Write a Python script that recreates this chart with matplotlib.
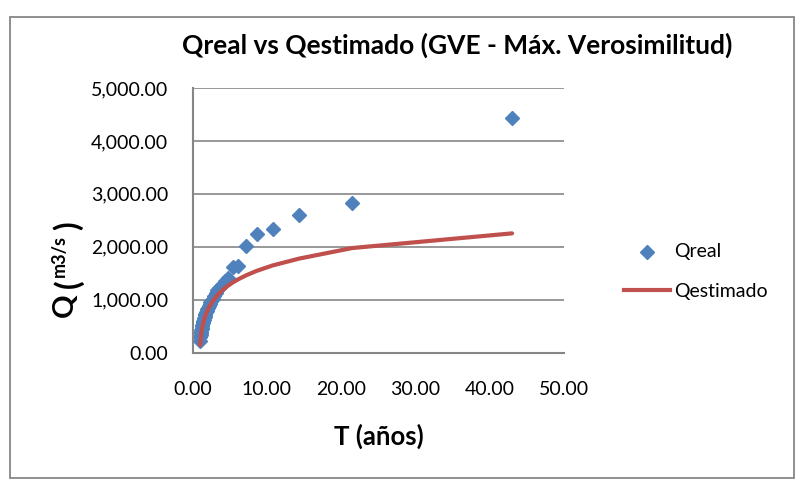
import matplotlib
matplotlib.use("Agg")
import matplotlib.pyplot as plt
from matplotlib.patches import Rectangle
from matplotlib.lines import Line2D
from matplotlib.ticker import FuncFormatter

# ---- data ----
T_years = [43.0, 21.5, 14.333, 10.75, 8.6, 7.167, 6.143, 5.375, 4.778, 4.3,
           3.909, 3.583, 3.308, 3.071, 2.867, 2.6875, 2.529, 2.389, 2.263, 2.15,
           2.048, 1.955, 1.870, 1.792, 1.72, 1.654, 1.593, 1.536, 1.483, 1.433,
           1.387, 1.344, 1.303, 1.265, 1.229, 1.194, 1.162, 1.132, 1.103, 1.075,
           1.049, 1.024]
Q_real = [4430, 2830, 2600, 2335, 2240, 2010, 1635, 1610, 1400, 1350,
          1270, 1220, 1180, 1120, 1060, 1010, 980, 950, 910, 880,
          850, 820, 790, 760, 730, 700, 680, 650, 620, 600,
          570, 550, 520, 500, 470, 450, 420, 390, 360, 330,
          290, 220]
Q_est = [2252, 1975, 1775, 1645, 1542, 1457, 1385, 1322, 1265, 1213,
         1165, 1121, 1080, 1041, 1004, 969, 935, 903, 872, 842,
         812, 783, 755, 727, 699, 672, 645, 618, 592, 566,
         540, 514, 490, 465, 440, 410, 380, 345, 305, 260,
         210, 140]
x_ticks = [0, 10, 20, 30, 40, 50]
y_ticks = [0, 1000, 2000, 3000, 4000, 5000]

BLUE = "#4F81BD"
RED = "#C0504D"
GRID = "#868686"
FONT = "Lato"

W, H = 799, 480
fig = plt.figure(figsize=(W / 100, H / 100), dpi=100)
fig.patch.set_facecolor("white")

def fx(px):
    return px / W

def fy(py):
    return 1 - py / H

left, right, top, bottom = 192.7, 564, 88, 352.5
ax = fig.add_axes([fx(left), fy(bottom), fx(right) - fx(left), fy(top) - fy(bottom)])

ax.plot(T_years, Q_est, color=RED, lw=3.0, solid_capstyle="round", zorder=3)
ax.plot(T_years, Q_real, linestyle="none", marker="D", ms=7,
        color=BLUE, markeredgecolor=BLUE, zorder=2)

ax.set_xlim(0, 50)
ax.set_ylim(0, 5000)
ax.set_xticks(x_ticks)
ax.set_yticks(y_ticks)
ax.xaxis.set_major_formatter(FuncFormatter(lambda v, p: f"{v:,.2f}"))
ax.yaxis.set_major_formatter(FuncFormatter(lambda v, p: f"{v:,.2f}"))
ax.tick_params(axis="both", length=0, labelsize=14, colors="black")
ax.tick_params(axis="x", pad=20.5)
ax.tick_params(axis="y", pad=17.5)
for lab in ax.get_xticklabels() + ax.get_yticklabels():
    lab.set_fontfamily(FONT)

ax.grid(axis="y", color=GRID, lw=1.2)
ax.set_axisbelow(True)
for s in ["top", "right"]:
    ax.spines[s].set_visible(False)
for s in ["left", "bottom"]:
    ax.spines[s].set_color(GRID)
    ax.spines[s].set_linewidth(1.5)

# title
fig.text(fx(457), fy(45), "Qreal vs Qestimado (GVE - Máx. Verosimilitud)",
         fontsize=19, fontweight="bold", family=FONT, ha="center", va="center")

# x label
fig.text(fx(379), fy(436), "T (años)", fontsize=18.5, fontweight="bold",
         family=FONT, ha="center", va="center")

# y label: big bold Q and parentheses, small m3/s
fig.text(fx(65), fy(305), "Q", fontsize=21, fontweight="bold", family=FONT,
         rotation=90, ha="center", va="center")
fig.text(fx(68), fy(284), "(", fontsize=23, fontweight="bold", family=FONT,
         rotation=90, ha="center", va="center")
fig.text(fx(59), fy(256), "m3/s", fontsize=13, fontweight="bold", family=FONT,
         rotation=90, ha="center", va="center")
fig.text(fx(68), fy(226), ")", fontsize=23, fontweight="bold", family=FONT,
         rotation=90, ha="center", va="center")

# legend (manual)
fig.add_artist(Line2D([fx(646.7)], [fy(251.7)], marker="D", ms=7, color=BLUE,
                      linestyle="none", transform=fig.transFigure))
fig.text(fx(674), fy(252), "Qreal", fontsize=14, family=FONT, ha="left", va="center")
fig.add_artist(Line2D([fx(624), fx(670)], [fy(290), fy(290)], color=RED, lw=3.0,
                      transform=fig.transFigure))
fig.text(fx(674), fy(291), "Qestimado", fontsize=14, family=FONT, ha="left", va="center")

# outer chart frame
fig.add_artist(Rectangle((fx(10), fy(478)), fx(794) - fx(10), fy(17) - fy(478),
                         transform=fig.transFigure, fill=False, edgecolor=GRID, lw=1.3))

fig.savefig("out.png", dpi=100)
